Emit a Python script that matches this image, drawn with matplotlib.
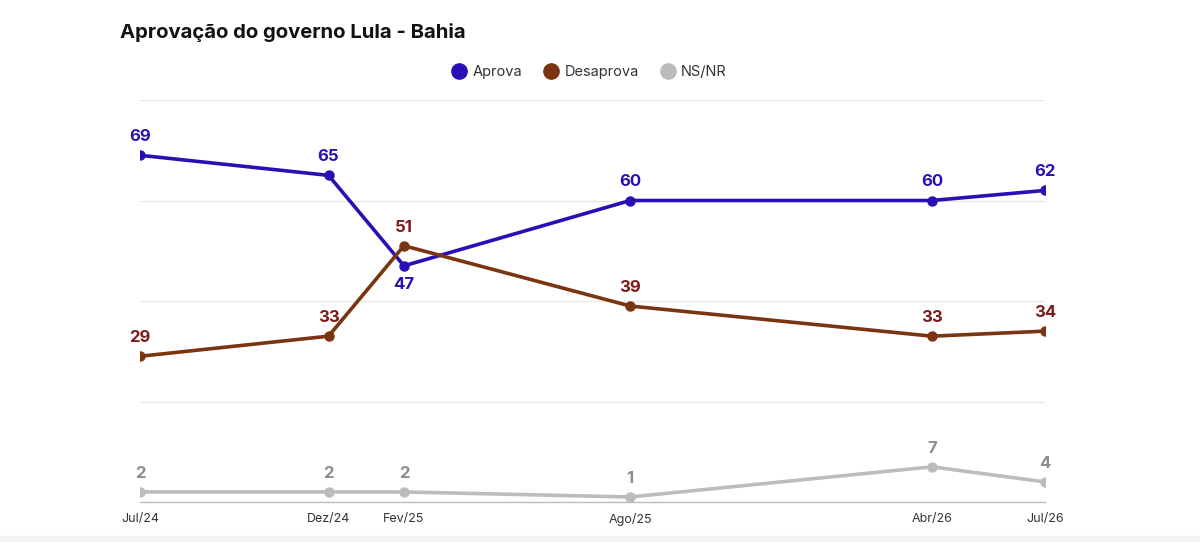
import matplotlib.pyplot as plt
import matplotlib.patches as mpatches
from matplotlib.lines import Line2D

plt.rcParams['font.family'] = ['Inter', 'DejaVu Sans']

# data
periods = ["Jul/24", "Dez/24", "Fev/25", "Ago/25", "Abr/26", "Jul/26"]
months = [0, 5, 7, 13, 21, 24]  # months since Jul/24
aprova = [69, 65, 47, 60, 60, 62]
desaprova = [29, 33, 51, 39, 33, 34]
nsnr = [2, 2, 2, 1, 7, 4]

series = [
    ("Aprova", aprova, "#2a0fb4", "#2a0fb4"),
    ("Desaprova", desaprova, "#7a3510", "#7d1a1a"),
    ("NS/NR", nsnr, "#bcbcbc", "#8c8c8c"),
]

fig = plt.figure(figsize=(12, 5.42), dpi=100)
ax = fig.add_axes([140 / 1200, 40 / 542, 905 / 1200, 402 / 542])

for name, vals, col, tcol in series:
    ax.plot(months, vals, color=col, lw=2.6, marker="o", ms=6.5, zorder=3,
            solid_capstyle="round")
    for i, (x, v) in enumerate(zip(months, vals)):
        below = name == "Aprova" and periods[i] == "Fev/25"
        dy = -8 if below else 8
        ax.annotate(str(v), (x, v), xytext=(0, dy), textcoords="offset points",
                    ha="center", va="top" if below else "bottom",
                    fontsize=12, fontweight="bold", color=tcol)

ax.set_xlim(0, 24)
ax.set_ylim(0, 80)
ax.set_yticks([0, 20, 40, 60, 80])
ax.set_yticklabels([])
ax.grid(axis="y", color="#e6e6e6", lw=0.9)
ax.set_axisbelow(True)
ax.tick_params(axis="y", length=0)
ax.tick_params(axis="x", length=0, pad=8, labelsize=9, labelcolor="#333333")
ax.set_xticks(months)
ax.set_xticklabels(periods)
for s in ["top", "right", "left"]:
    ax.spines[s].set_visible(False)
ax.spines["bottom"].set_color("#bdbdbd")
ax.spines["bottom"].set_linewidth(1.0)

fig.text(120 / 1200, 1 - 32 / 542, "Aprovação do governo Lula - Bahia",
         fontsize=14.6, fontweight="bold", color="#111111", va="center")

handles = [Line2D([], [], ls="none", marker="o", ms=11, color=c) for _, _, c, _ in series]
fig.legend(handles, [s[0] for s in series], loc="center", bbox_to_anchor=(0.49, 1 - 72 / 542),
           ncol=3, frameon=False, fontsize=10.5, handletextpad=0.2, columnspacing=1.3,
           handlelength=1.4, labelcolor="#333333")

fig.patches.append(mpatches.Rectangle((0, 0), 1, 6 / 542, transform=fig.transFigure,
                                      color="#f2f3f5", zorder=0))

fig.savefig("out.png", dpi=100)
